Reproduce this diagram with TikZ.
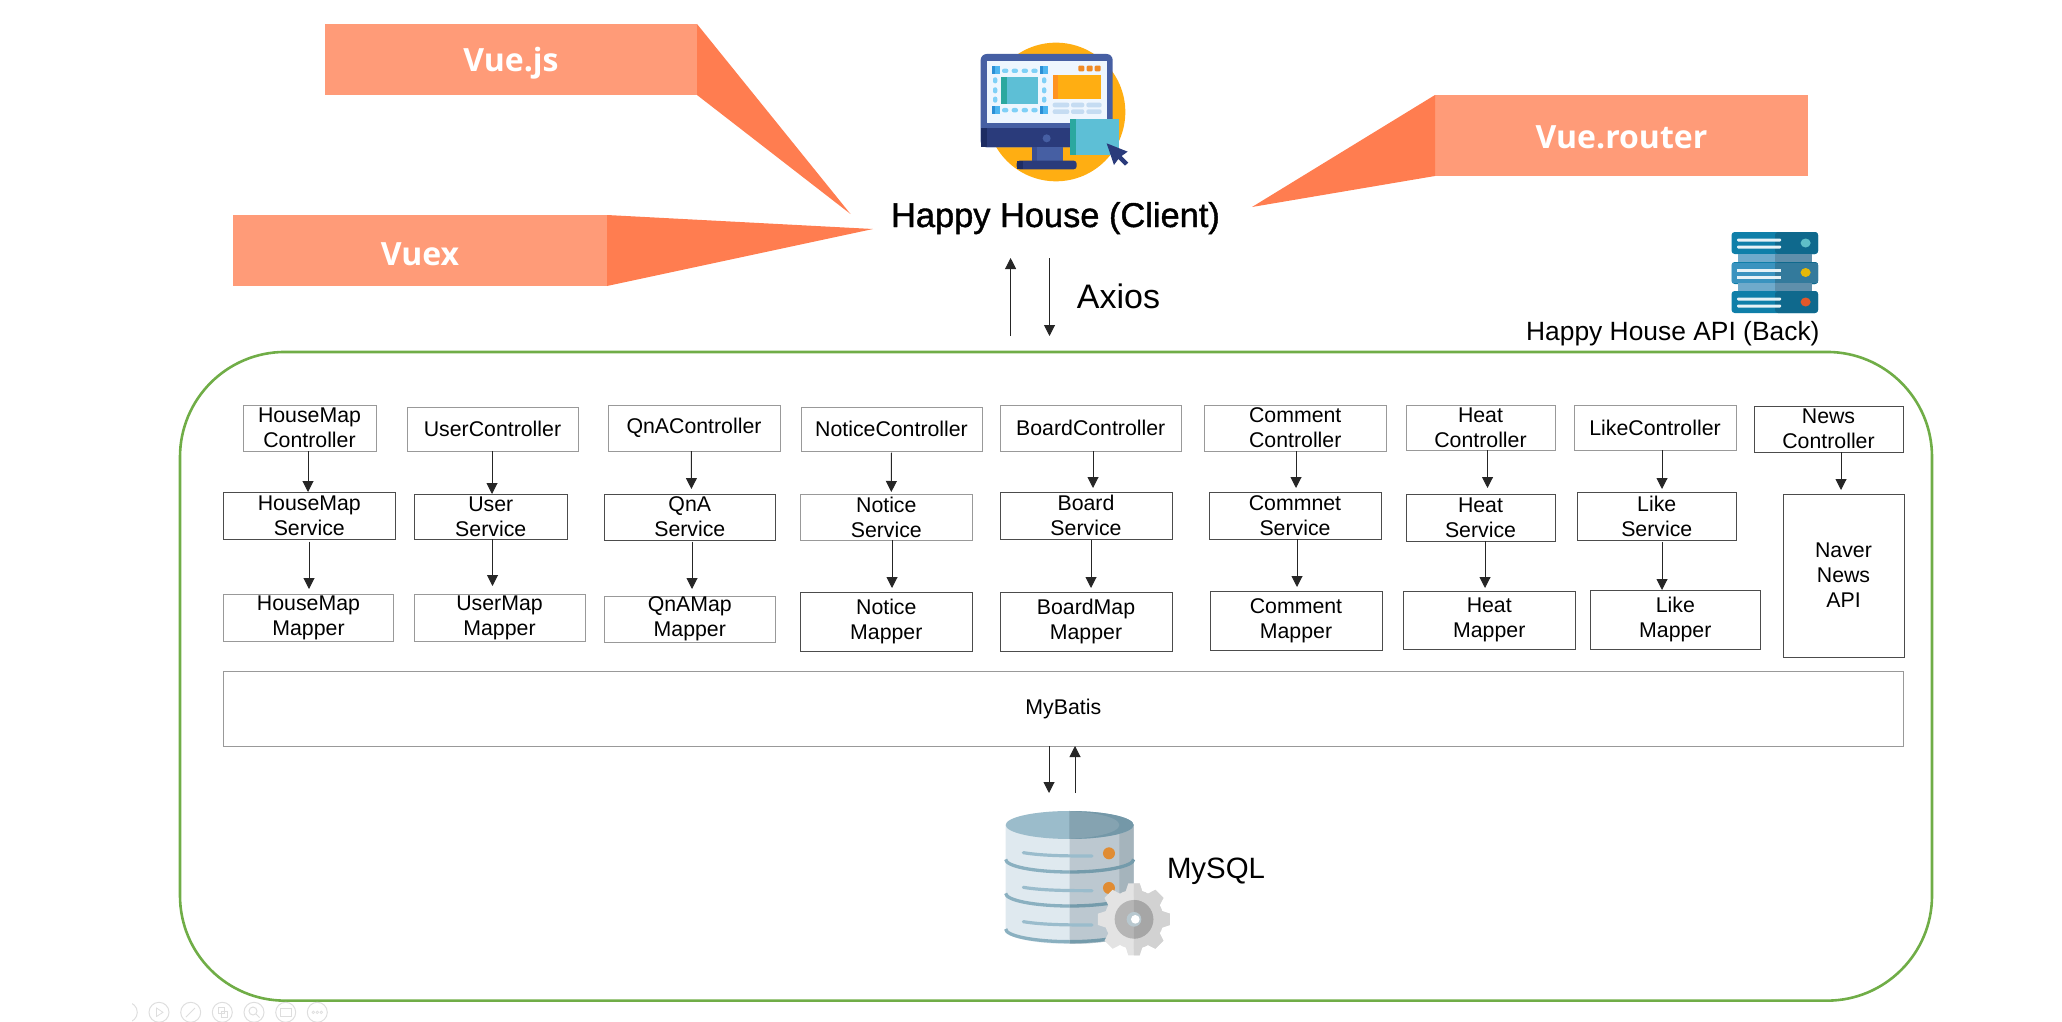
\documentclass[tikz,border=0pt]{standalone}
\usepackage{fontspec}
\setmainfont{Liberation Sans}
\newfontfamily\vuefont[BoldFont={Open Sans Bold}]{Open Sans}
\newfontfamily\clientfont[FakeBold=1.2]{Liberation Sans}
\usetikzlibrary{arrows.meta}
\definecolor{vuelight}{HTML}{FF9B78}
\definecolor{vuedark}{HTML}{FF7D50}
\definecolor{apigreen}{HTML}{70AD47}
\definecolor{barblue}{HTML}{0F7FA9}

\begin{document}
\begin{tikzpicture}[
    x=1pt,y=-1pt,
    mbox/.style args = {#1/#2}{minimum width=#1pt,minimum height=#2pt},
    cell/.style = {rectangle,align=center,inner sep=0pt,outer sep=0pt,line width=.95pt,font=\fontsize{21.3}{25}\selectfont},
    cd/.style = {cell,draw=black!70},
    cg/.style = {cell,draw=black!40},
    vue/.style = {rectangle,fill=vuelight,text=white,inner sep=0pt,outer sep=0pt,font=\vuefont\bfseries\fontsize{32}{36}\selectfont},
    tip/.style = {fill=vuedark},
    free/.style = {anchor=base,inner sep=0pt},
    arr/.style = {-{Triangle[length=11pt,width=11pt]},line width=1pt,black!85},
    gear/.style = {rotate around={#1:(552,568)}},
    tool/.style = {draw=black!13,line width=1pt}
    ]
    \useasboundingbox (0,0) rectangle (2062,1022);
    \node[rectangle,draw=apigreen,line width=2.6pt,rounded corners=105pt,mbox=1752/648.7] (api) at (1056,676.3) {};

    \node[vue,mbox=372/71,text height=48pt,text depth=23pt] (vuejs) at (511,59.5) {Vue.js};
    \node[vue,mbox=374/71,text height=50pt,text depth=21pt] (vuex) at (420,250.5) {Vuex};
    \node[vue,mbox=373/81,text height=54pt,text depth=27pt] (router) at (1621.5,135.5) {Vue.router};
    \coordinate (vuejstip) at (850.5,214);
    \coordinate (vuextip) at (873,229);
    \coordinate (routertip) at (1252,207);
    \fill[tip] (vuejs.north east) -- (vuejstip) -- (vuejs.south east) -- cycle;
    \fill[tip] (vuex.north east) -- (vuextip) -- (vuex.south east) -- cycle;
    \fill[tip] (router.north west) -- (routertip) -- (router.south west) -- cycle;

    \begin{scope}[shift={(960,30)},x=0.3333pt,y=-0.3333pt]
      \fill[color={rgb,255:red,255;green,174;blue,18}] (288,246) circle (208);
      \fill[color={rgb,255:red,70;green,95;blue,163},rounded corners=6pt] (62,72) rectangle (458,352);
      \fill[color={rgb,255:red,42;green,59;blue,123}] (62,295) rectangle (458,352);
      \fill[color={rgb,255:red,29;green,44;blue,99}] (62,295) rectangle (82,352);
      \fill[color={rgb,255:red,238;green,246;blue,254}] (82,92) rectangle (440,278);
      \fill[color={rgb,255:red,70;green,95;blue,163}] (260,325) circle (12);
      \fill[color={rgb,255:red,70;green,95;blue,163}] (215,352) rectangle (308,392);
      \fill[color={rgb,255:red,58;green,79;blue,146}] (215,352) rectangle (232,392);
      \fill[color={rgb,255:red,42;green,59;blue,123},rounded corners=3pt] (170,392) rectangle (350,418);
      \fill[color={rgb,255:red,29;green,44;blue,99}] (172,392) rectangle (188,418);
      \foreach \px/\py in {95/107,240/107,95/227,240/227} {
        \fill[color={rgb,255:red,77;green,181;blue,240}] (\px,\py) rectangle +(25,26);
        \fill[color={rgb,255:red,43;green,143;blue,213}] (\px,\py) rectangle +(10,26);
      }
      \foreach \py in {122,240} \foreach \px in {126,155,185,214}
        \fill[color={rgb,255:red,127;green,208;blue,247},rounded corners=2pt] (\px,\py-6) rectangle +(19,13);
      \foreach \px in {105,252} \foreach \py in {142,172,200}
        \fill[color={rgb,255:red,127;green,208;blue,247},rounded corners=2pt] (\px-6,\py) rectangle +(13,18);
      \fill[color={rgb,255:red,93;green,191;blue,214}] (122,140) rectangle (235,222);
      \fill[color={rgb,255:red,43;green,168;blue,159}] (122,140) rectangle (140,222);
      \fill[color={rgb,255:red,255;green,174;blue,18}] (278,135) rectangle (423,207);
      \fill[color={rgb,255:red,255;green,147;blue,32}] (278,135) rectangle (295,207);
      \foreach \px in {355,380,404}
        \fill[color={rgb,255:red,240;green,138;blue,36},rounded corners=1pt] (\px,107) rectangle +(18,17);
      \foreach \py in {218,238} \foreach \px/\pw in {278/50,333/40,379/46}
        \fill[color={rgb,255:red,197;green,220;blue,242},rounded corners=2pt] (\px,\py) rectangle +(\pw,14);
      \fill[color={rgb,255:red,93;green,191;blue,214}] (330,268) rectangle (477,376);
      \fill[color={rgb,255:red,43;green,168;blue,159}] (330,268) rectangle (348,376);
      \fill[color={rgb,255:red,42;green,59;blue,123}] (440,340) -- (503,365) -- (485,378) -- (505,398) -- (495,407) -- (475,387) -- (462,405) -- cycle;
    \end{scope}

    \node[free,font=\clientfont\fontsize{34.4}{38}\selectfont] (client) at (1055.5,227) {Happy House (Client)};
    \node[free,font=\fontsize{34}{38}\selectfont] (axios) at (1118.5,308) {Axios};
    \node[free,font=\fontsize{26.4}{30}\selectfont] (apilabel) at (1672.8,340) {Happy House API (Back)};
    \coordinate (upstart) at (1010.6,336);
    \coordinate (upend) at (1010.6,258);
    \coordinate (downstart) at (1049.5,258);
    \coordinate (downend) at (1049.5,336);
    \draw[arr] (upstart) -- (upend);
    \draw[arr] (downstart) -- (downend);

    \foreach \uy in {232,262,291} {
      \fill[color={rgb,255:red,15;green,127;blue,169},rounded corners=3pt] (1731.6,\uy) rectangle +(86.4,22);
      \fill[color={rgb,255:red,15;green,105;blue,141},rounded corners=3pt] (1775,\uy) rectangle +(43,22);
      \foreach \ly in {8,15} \fill[white!90!barblue,rounded corners=1pt] (1737,\uy+\ly-1.5) rectangle +(44,3);
    }
    \fill[color={rgb,255:red,58;green,147;blue,191}] (1731.6,263) rectangle (1775,283);
    \fill[color={rgb,255:red,51;green,122;blue,156}] (1775,263) rectangle (1818,283);
    \foreach \ly in {270,277} \fill[white!90!barblue] (1737,\ly-1.5) rectangle +(44,3);
    \foreach \uy in {254,283} {
      \fill[color={rgb,255:red,111;green,170;blue,203}] (1738,\uy) rectangle (1775,\uy+8);
      \fill[color={rgb,255:red,95;green,143;blue,171}] (1775,\uy) rectangle (1812,\uy+8);
    }
    \fill[color={rgb,255:red,95;green,190;blue,200}] (1805.6,243) ellipse (5 and 4.5);
    \fill[color={rgb,255:red,228;green,184;blue,8}] (1805.6,272.5) ellipse (5 and 4.5);
    \fill[color={rgb,255:red,226;green,88;blue,42}] (1805.6,302) ellipse (5 and 4.5);

    \node[cg,mbox=133/46] (hmc) at (309.5,428) {HouseMap\\Controller};
    \node[cg,mbox=171/44] (usc) at (492.5,429) {UserController};
    \node[cg,mbox=172/46] (qac) at (694,428) {QnAController};
    \node[cg,mbox=181/44] (ntc) at (891.5,429) {NoticeController};
    \node[cg,mbox=181.5/46] (bdc) at (1090.75,428) {BoardController};
    \node[cg,mbox=181.5/46] (cmc) at (1295.25,428) {Comment\\Controller};
    \node[cg,mbox=149/45] (htc) at (1480.5,427.5) {Heat\\Controller};
    \node[cg,mbox=162/45] (lkc) at (1655,427.5) {LikeController};
    \node[cd,mbox=149/46] (nwc) at (1828.5,429) {News\\Controller};

    \node[cd,mbox=171.4/47] (hms) at (309.3,515.5) {HouseMap\\Service};
    \node[cd,mbox=153.5/45] (uss) at (490.75,516.5) {User\\Service};
    \node[cd,mbox=171.6/46] (qas) at (689.8,517) {QnA\\Service};
    \node[cg,mbox=171.4/46] (nts) at (886.3,517) {Notice\\Service};
    \node[cd,mbox=172/47] (bds) at (1086,515.5) {Board\\Service};
    \node[cd,mbox=172/47] (cms) at (1295,515.5) {Commnet\\Service};
    \node[cd,mbox=149/47] (hts) at (1480.5,517.5) {Heat\\Service};
    \node[cd,mbox=158.5/48] (lks) at (1656.75,516) {Like\\Service};
    \node[cd,mbox=121/163] (nav) at (1843.5,575.5) {Naver\\News\\API};

    \node[cg,mbox=170/47] (hmm) at (308.5,617.5) {HouseMap\\Mapper};
    \node[cg,mbox=171/47] (usm) at (499.5,617.5) {UserMap\\Mapper};
    \node[cg,mbox=171.6/46] (qam) at (689.8,619) {QnAMap\\Mapper};
    \node[cd,mbox=171.4/59] (ntm) at (886.3,621.5) {Notice\\Mapper};
    \node[cd,mbox=172/59] (bdm) at (1086,621.5) {BoardMap\\Mapper};
    \node[cd,mbox=172/59] (cmm) at (1296,620.5) {Comment\\Mapper};
    \node[cd,mbox=171.5/58] (htm) at (1489.25,620) {Heat\\Mapper};
    \node[cd,mbox=170.6/59] (lkm) at (1675.3,619.5) {Like\\Mapper};

    \node[cg,mbox=1679.4/75] (mbt) at (1063.3,708.5) {MyBatis};

    \draw[arr] ([xshift=-1.5pt]hmc.south) -- ([xshift=-1.3pt]hms.north);
    \draw[arr,shorten <=2.7pt,shorten >=5pt] ([xshift=-.3pt]hms.south) -- ([xshift=.5pt]hmm.north);
    \draw[arr] ([xshift=-.5pt]usc.south) -- ([xshift=1.25pt]uss.north);
    \draw[arr,shorten >=8pt] ([xshift=1.75pt]uss.south) -- ([xshift=-7pt]usm.north);
    \draw[arr,shorten >=5pt] ([xshift=-2.6pt]qac.south) -- ([xshift=1.6pt]qas.north);
    \draw[arr,shorten <=1.7pt,shorten >=7pt] ([xshift=2.2pt]qas.south) -- ([xshift=2.2pt]qam.north);
    \draw[arr,shorten <=1.7pt,shorten >=2pt] (ntc.south) -- ([xshift=5pt]nts.north);
    \draw[arr,shorten >=4pt] ([xshift=5.7pt]nts.south) -- ([xshift=5.7pt]ntm.north);
    \draw[arr,shorten >=4pt] ([xshift=2.25pt]bdc.south) -- ([xshift=7pt]bds.north);
    \draw[arr,shorten <=1pt,shorten >=4pt] ([xshift=5pt]bds.south) -- ([xshift=5pt]bdm.north);
    \draw[arr,shorten >=4pt] ([xshift=.75pt]cmc.south) -- ([xshift=1pt]cms.north);
    \draw[arr,shorten >=4pt] ([xshift=2pt]cms.south) -- ([xshift=1pt]cmm.north);
    \draw[arr,shorten >=6pt] ([xshift=7pt]htc.south) -- ([xshift=7pt]hts.north);
    \draw[arr,shorten >=3pt] ([xshift=4.5pt]hts.south) -- ([xshift=-4.25pt]htm.north);
    \draw[arr,shorten >=3pt] ([xshift=7pt]lkc.south) -- ([xshift=5.25pt]lks.north);
    \draw[arr,shorten <=2pt] ([xshift=5.25pt]lks.south) -- ([xshift=-13.3pt]lkm.north);
    \draw[arr,shorten >=4pt] ([xshift=12.5pt]nwc.south) -- ([xshift=-2.5pt]nav.north);

    \coordinate (sqldown) at (1049,793);
    \coordinate (sqlup) at (1075,793);
    \draw[arr] ([xshift=-14.3pt]mbt.south) -- (sqldown);
    \draw[arr] (sqlup) -- ([xshift=11.7pt]mbt.south);

    \begin{scope}[shift={(950,730)},x=0.3333pt,y=-0.3333pt]
      \fill[color={rgb,255:red,223;green,233;blue,239}] (167,285) -- (167,600) arc[start angle=180,end angle=0,x radius=192,y radius=42] -- (551,285) -- cycle;
      \begin{scope}
        \clip (359,200) rectangle (560,700);
        \fill[color={rgb,255:red,188;green,200;blue,208}] (167,285) -- (167,600) arc[start angle=180,end angle=0,x radius=192,y radius=42] -- (551,285) -- cycle;
      \end{scope}
      \begin{scope}
        \clip (508,200) rectangle (560,700);
        \fill[color={rgb,255:red,165;green,180;blue,188}] (167,285) -- (167,600) arc[start angle=180,end angle=0,x radius=192,y radius=42] -- (551,285) -- cycle;
      \end{scope}
      \foreach \by in {388,490,597} {
        \draw[color={rgb,255:red,138;green,176;blue,192},line width=3.3pt] (167,\by) arc[start angle=180,end angle=90,x radius=192,y radius=38];
        \draw[color={rgb,255:red,116;green,155;blue,171},line width=3.3pt] (359,\by+38) arc[start angle=90,end angle=0,x radius=192,y radius=38];
      }
      \foreach \by in {368,472,575}
        \draw[color={rgb,255:red,154;green,188;blue,204},line width=3.2pt,line cap=round] (220,\by) .. controls (280,\by+10) and (360,\by+10) .. (426,\by+10);
      \fill[color={rgb,255:red,224;green,140;blue,51}] (477,370) circle (18);
      \fill[color={rgb,255:red,224;green,140;blue,51}] (477,474) circle (18);
      \fill[color={rgb,255:red,155;green,188;blue,203}] (359,285) ellipse (192 and 42);
      \begin{scope}
        \clip (359,200) rectangle (560,400);
        \fill[color={rgb,255:red,116;green,152;blue,168}] (359,285) ellipse (192 and 42);
        \fill[color={rgb,255:red,133;green,163;blue,177}] (330,285) ellipse (178 and 42);
      \end{scope}
      \foreach \ga in {0,45,...,315}
        \fill[color={rgb,255:red,227;green,227;blue,227},gear=\ga] (535,460) -- (569,460) -- (582,500) -- (522,500) -- cycle;
      \fill[color={rgb,255:red,227;green,227;blue,227}] (552,568) circle (88);
      \begin{scope}
        \clip (552,440) rectangle (680,700);
        \foreach \ga in {0,45,...,315}
          \fill[color={rgb,255:red,210;green,210;blue,210},gear=\ga] (535,460) -- (569,460) -- (582,500) -- (522,500) -- cycle;
        \fill[color={rgb,255:red,210;green,210;blue,210}] (552,568) circle (88);
      \end{scope}
      \fill[color={rgb,255:red,181;green,181;blue,181}] (552,568) circle (58);
      \begin{scope}
        \clip (552,500) rectangle (620,640);
        \fill[color={rgb,255:red,166;green,166;blue,166}] (552,568) circle (58);
      \end{scope}
      \fill[color={rgb,255:red,184;green,200;blue,207}] (552,568) circle (22);
      \fill[white] (556,568) circle (13);
    \end{scope}
    \node[free,font=\fontsize{29.4}{34}\selectfont] (mysql) at (1216,878) {MySQL};

    \begin{scope}
      \clip (132,995) rectangle (340,1022);
      \foreach \tx in {127.3,159,190.7,222.3,254,285.7,317.3} \draw[tool] (\tx,1012.3) circle (10);
    \end{scope}
    \draw[tool,line width=.8pt] (156.5,1008) -- (156.5,1016.5) -- (163,1012.3) -- cycle;
    \draw[tool] (186,1017) -- (195,1008);
    \draw[tool] (218,1007.5) rectangle +(6,6);
    \draw[tool] (221,1011) rectangle +(6,6);
    \draw[tool] (253,1011) circle (4);
    \draw[tool] (256,1014) -- (259.5,1017.5);
    \draw[tool] (280,1008) rectangle (291.5,1016.5);
    \foreach \dx in {-4,0,4} \draw[tool,line width=.7pt] (317.3+\dx,1012.3) circle (1.3);
\end{tikzpicture}
\end{document}
